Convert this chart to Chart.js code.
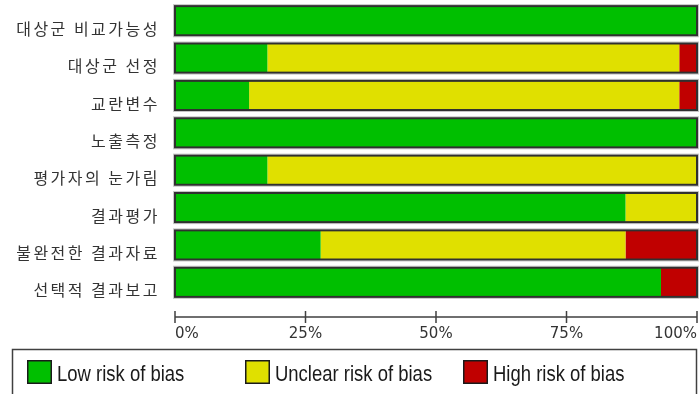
<!DOCTYPE html>
<html>
<head>
<meta charset="utf-8">
<script src="https://cdn.jsdelivr.net/npm/chart.js@4/dist/chart.umd.min.js"></script>
<style>
  html, body { margin: 0; padding: 0; background: #ffffff; }
  #wrap { width: 699px; height: 394px; }
</style>
</head>
<body>
<div id="wrap"><canvas id="c" width="699" height="394"></canvas></div>
<script>
// Risk-of-bias domains (top to bottom) and share of studies per judgement, in %
const domains = ['대상군 비교가능성', '대상군 선정', '교란변수', '노출측정', '평가자의 눈가림', '결과평가', '불완전한 결과자료', '선택적 결과보고'];
const lowRisk     = [100, 17.7, 14.2, 100, 17.7, 86.3, 27.9, 93.1];
const unclearRisk = [0,   78.9, 82.4, 0,   82.3, 13.7, 58.4, 0];
const highRisk    = [0,   3.4,  3.4,  0,   0,    0,    13.7, 6.9];
const seriesNames  = ['Low risk of bias', 'Unclear risk of bias', 'High risk of bias'];
const seriesColors = ['#00bf00', '#e0e000', '#c00000'];
const percentTicks = [0, 25, 50, 75, 100];

const datasets = [lowRisk, unclearRisk, highRisk].map((values, i) => ({
  label: seriesNames[i],
  data: values,
  backgroundColor: seriesColors[i],
  borderWidth: 0,
  categoryPercentage: 1,
  barPercentage: 0.78
}));

// Frames around each bar, the axis line with crossing ticks, and the boxed legend
const robDecor = {
  id: 'robDecor',
  beforeDraw(chart) {
    const ys = chart.scales.y;
    if (!ys._spaced) {
      const orig = ys.drawLabels.bind(ys);
      ys.drawLabels = function (area) {
        const ctx = this.ctx;
        ctx.save();
        ctx.letterSpacing = '2.5px';
        orig(area);
        ctx.restore();
      };
      ys._spaced = true;
    }
  },
  afterDatasetsDraw(chart) {
    const ctx = chart.ctx;
    const xs = chart.scales.x;
    const meta = chart.getDatasetMeta(0);
    const x0 = xs.getPixelForValue(0);
    const x1 = xs.getPixelForValue(100);
    ctx.save();
    meta.data.forEach(bar => {
      const p = bar.getProps(['y', 'height'], true);
      const top = p.y - p.height / 2;
      ctx.strokeStyle = '#c8c8c8';
      ctx.lineWidth = 1;
      ctx.strokeRect(x0 - 1.5, top - 1.5, x1 - x0 + 3, p.height + 3);
      ctx.strokeStyle = '#303030';
      ctx.lineWidth = 2;
      ctx.strokeRect(x0, top, x1 - x0, p.height);
    });
    ctx.restore();
  },
  afterDraw(chart) {
    const ctx = chart.ctx;
    const xs = chart.scales.x;
    const area = chart.chartArea;
    const axisY = area.bottom + 16;
    ctx.save();
    ctx.strokeStyle = '#404040';
    ctx.lineWidth = 1.5;
    ctx.beginPath();
    ctx.moveTo(xs.getPixelForValue(0), axisY);
    ctx.lineTo(xs.getPixelForValue(100), axisY);
    xs.ticks.forEach(t => {
      const px = xs.getPixelForValue(t.value);
      ctx.moveTo(px, axisY - 6);
      ctx.lineTo(px, axisY + 6);
    });
    ctx.stroke();

    // legend frame
    ctx.strokeStyle = '#404040';
    ctx.lineWidth = 1.5;
    ctx.strokeRect(12.5, 349.5, 684, 60);
    const colX = [27, 245, 463];
    ctx.font = '22px "Liberation Sans", sans-serif';
    ctx.textBaseline = 'alphabetic';
    ctx.textAlign = 'left';
    chart.data.datasets.forEach((ds, i) => {
      const bx = colX[i];
      ctx.fillStyle = ds.backgroundColor;
      ctx.fillRect(bx, 360, 25, 24);
      ctx.strokeStyle = '#1a1a1a';
      ctx.lineWidth = 1.5;
      ctx.strokeRect(bx + 0.75, 360.75, 23.5, 22.5);
      ctx.fillStyle = '#1a1a1a';
      // condensed lettering: squeeze the text horizontally
      ctx.save();
      ctx.translate(bx + 30, 381);
      ctx.scale(0.84, 1);
      ctx.fillText(ds.label, 0, 0);
      ctx.restore();
    });
    ctx.restore();
  }
};

new Chart(document.getElementById('c'), {
  type: 'bar',
  data: { labels: domains, datasets },
  options: {
    indexAxis: 'y',
    responsive: false,
    animation: false,
    devicePixelRatio: 1,
    layout: { padding: { top: 2, right: 2, left: 0, bottom: 0 } },
    plugins: { legend: { display: false }, tooltip: { enabled: false } },
    scales: {
      x: {
        type: 'linear',
        stacked: true,
        min: 0,
        max: 100,
        afterBuildTicks: s => { s.ticks = percentTicks.map(v => ({ value: v })); },
        afterFit: s => { s.height = 93; s.paddingLeft = 0; s.paddingRight = 0; },
        grid: { display: false, drawTicks: false },
        border: { display: false },
        ticks: {
          align: 'inner',
          autoSkip: false,
          maxRotation: 0,
          padding: 24,
          color: '#333333',
          font: { family: '"DejaVu Sans"', size: 15 },
          callback: v => v + '%'
        }
      },
      y: {
        type: 'category',
        stacked: true,
        afterFit: s => { s.width = 175; s.paddingTop = 0; s.paddingBottom = 0; },
        grid: { display: false, drawTicks: false },
        border: { display: false },
        ticks: {
          padding: 15,
          labelOffset: 8,
          color: '#333333',
          font: { family: '"Noto Sans CJK KR"', size: 16 }
        }
      }
    }
  },
  plugins: [robDecor]
});
</script>
</body>
</html>
